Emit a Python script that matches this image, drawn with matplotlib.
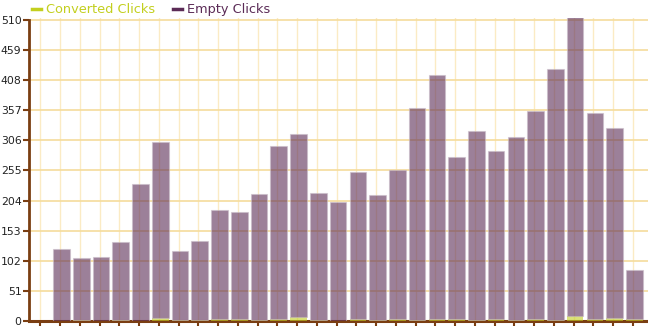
import numpy as np
import matplotlib.pyplot as plt
from matplotlib.lines import Line2D

# one slot per day, the first slot is empty
converted = [0, 0, 1, 0, 1, 0, 5, 1, 2, 3, 3, 1, 4, 7, 1, 0,
             3, 2, 4, 1, 3, 3, 1, 4, 1, 3, 2, 8, 3, 5, 4]
total = [0, 122, 107, 108, 134, 232, 303, 119, 136, 188, 185, 215, 296, 317, 217, 202,
         252, 213, 256, 361, 417, 278, 322, 288, 312, 356, 427, 514, 352, 327, 86]
empty = [t - c for t, c in zip(total, converted)]
yticks = list(range(0, 511, 51))

brown = "#7a3e12"
grid_col = "#f5dc9c"
conv_col = "#c3cf1e"
empty_col = "#5b2b56"

fig = plt.figure(figsize=(6.48, 3.26), dpi=100)
ax = fig.add_axes([28.5 / 648, 5 / 326, 619.5 / 648, 303 / 326])

x = np.arange(len(total))
off = 0.07
w = 0.84
ax.bar(x + off, converted, width=w, color=conv_col, alpha=0.6,
       linewidth=0, zorder=3)
lw = [0.8 if e > 0 else 0 for e in empty]
ax.bar(x + off, empty, bottom=converted, width=w, color=empty_col, alpha=0.6,
       edgecolor="#c9bcc7", linewidth=lw, zorder=3)

ax.set_xlim(-0.6, 30.76)
ax.set_ylim(0, 513)
ax.set_yticks(yticks)
ax.set_xticks(x)
ax.set_xticklabels([])
ax.grid(axis="y", color=grid_col, linewidth=1.2, zorder=1)
ax.grid(axis="x", color="#fbebc4", linewidth=1.0, zorder=1)

for s in ["top", "right"]:
    ax.spines[s].set_visible(False)
ax.spines["left"].set_color(brown)
ax.spines["left"].set_linewidth(2)
ax.spines["left"].set_bounds(0, 510)
ax.spines["bottom"].set_color(brown)
ax.spines["bottom"].set_linewidth(2.2)
ax.tick_params(axis="y", colors=brown, length=4, width=1.5, labelsize=7.8, pad=1,
               labelcolor="#222222")
ax.tick_params(axis="x", colors=brown, length=4, width=1.5, direction="out")
ax.set_axisbelow(True)

handles = [Line2D([], [], color=conv_col, linewidth=2.5),
           Line2D([], [], color=empty_col, linewidth=2.5)]
leg = fig.legend(handles, ["Converted Clicks", "Empty Clicks"], loc="upper left",
                 bbox_to_anchor=(20 / 648, 1.025), ncol=2, frameon=False,
                 fontsize=9.3, handlelength=0.7, handletextpad=0.4, columnspacing=1.4)
for txt, c in zip(leg.get_texts(), [conv_col, empty_col]):
    txt.set_color(c)

fig.savefig("out.png", dpi=100)
